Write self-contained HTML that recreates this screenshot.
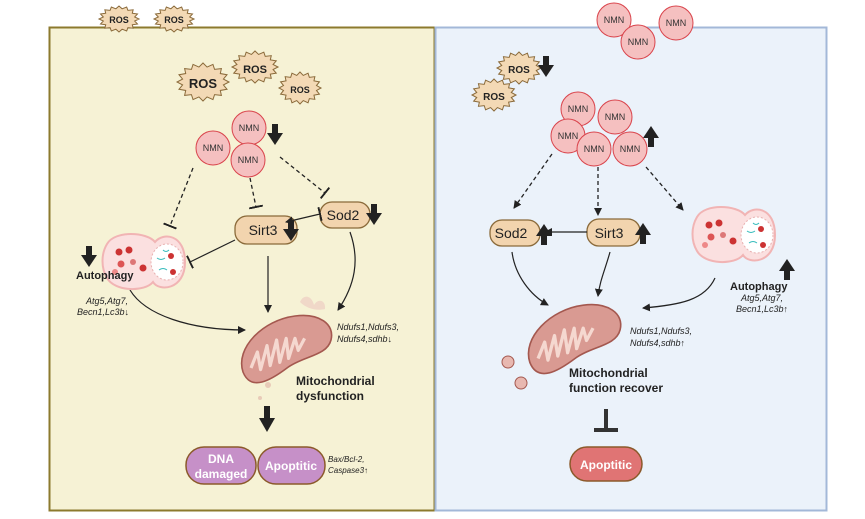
<!DOCTYPE html>
<html><head><meta charset="utf-8"><style>
html,body{margin:0;padding:0;background:#fff}
svg{display:block;font-family:"Liberation Sans",sans-serif}
</style></head><body>
<svg width="865" height="519" viewBox="0 0 865 519">
<defs>
<symbol id="star" viewBox="-1 -1 2 2" preserveAspectRatio="none" overflow="visible">
<polygon points="1,0 .785,.156 .924,.383 .665,.445 .707,.707 .445,.665 .383,.924 .156,.785 0,1 -.156,.785 -.383,.924 -.445,.665 -.707,.707 -.665,.445 -.924,.383 -.785,.156 -1,0 -.785,-.156 -.924,-.383 -.665,-.445 -.707,-.707 -.445,-.665 -.383,-.924 -.156,-.785 0,-1 .156,-.785 .383,-.924 .445,-.665 .707,-.707 .665,-.445 .924,-.383 .785,-.156" fill="#f3d9b5" stroke="#8a6a3a" stroke-width="1" vector-effect="non-scaling-stroke"/>
</symbol>
<marker id="ah" markerWidth="8" markerHeight="8" refX="7" refY="4" orient="auto" markerUnits="userSpaceOnUse"><path d="M0,0 L8,4 L0,8z" fill="#222"/></marker>
<marker id="tb" markerWidth="2" markerHeight="14" refX="1" refY="7" orient="auto" markerUnits="userSpaceOnUse"><rect x="0" y="0" width="2" height="14" fill="#222"/></marker>
<g id="dn"><rect x="-3" y="-12" width="6" height="10" fill="#222"/><path d="M-8,-3 L8,-3 L0,9z" fill="#222"/></g>
<g id="up"><rect x="-3" y="2" width="6" height="10" fill="#222"/><path d="M-8,3 L8,3 L0,-9z" fill="#222"/></g>
<g id="auto">
<path d="M-38,-18 C-30,-32 2,-30 10,-20 C18,-30 40,-28 40,0 C40,28 14,30 8,20 C0,30 -30,30 -38,16 C-44,6 -44,-8 -38,-18z" fill="#fbe0e0" stroke="#f1b4b4" stroke-width="2"/>
<ellipse cx="22" cy="0" rx="16" ry="18" fill="#fff" stroke="#e8b0b0" stroke-dasharray="2 2"/>
<circle cx="-26" cy="-10" r="3.5" fill="#c33"/><circle cx="-16" cy="-12" r="3.5" fill="#c33"/><circle cx="-24" cy="2" r="3.5" fill="#d55"/><circle cx="-12" cy="0" r="3" fill="#d77"/><circle cx="-2" cy="6" r="3.5" fill="#c33"/><circle cx="-30" cy="10" r="3" fill="#e88"/>
<circle cx="26" cy="-6" r="3" fill="#c33"/><circle cx="28" cy="10" r="3" fill="#c33"/><path d="M12,-4 q4,3 8,0 M14,8 q4,-3 8,0 M18,-12 q3,3 6,0" stroke="#3bb" fill="none"/>
</g>
<g id="mito">
<path d="M-55,30 C-65,0 -30,-35 10,-40 C40,-44 60,-30 55,-10 C50,10 20,10 0,25 C-20,40 -45,55 -55,30z" fill="#d99a92" stroke="#a4584f" stroke-width="2"/>
<path d="M-45,25 l8,-20 l4,22 l8,-30 l4,25 l8,-32 l4,28 l8,-30 l3,25 l8,-25 l4,15 l8,-15" fill="none" stroke="#f5d8d0" stroke-width="4" stroke-linejoin="round"/>
</g>
</defs>

<rect x="49.5" y="27.5" width="385" height="483" fill="#f6f2d5" stroke="#8c7a2e" stroke-width="2"/>
<rect x="435.5" y="27.5" width="391" height="483" fill="#ebf2fa" stroke="#a3b8d8" stroke-width="2"/>

<g font-weight="bold" text-anchor="middle" fill="#222">
<use href="#star" x="99" y="6" width="40" height="26"/><text x="119" y="23" font-size="9">ROS</text>
<use href="#star" x="154" y="6" width="40" height="26"/><text x="174" y="23" font-size="9">ROS</text>
<use href="#star" x="177" y="63" width="52" height="38"/><text x="203" y="88" font-size="13">ROS</text>
<use href="#star" x="232" y="51" width="46" height="32"/><text x="255" y="73" font-size="11">ROS</text>
<use href="#star" x="279" y="72" width="42" height="32"/><text x="300" y="93" font-size="9">ROS</text>
<use href="#star" x="497" y="52" width="44" height="32"/><text x="519" y="73" font-size="10">ROS</text>
<use href="#star" x="472" y="79" width="44" height="32"/><text x="494" y="100" font-size="10">ROS</text>
</g>
<use href="#dn" x="546" y="68"/>

<g fill="#f5c0c0" stroke="#d9434b" stroke-width="1">
<circle cx="249" cy="128" r="17"/><circle cx="213" cy="148" r="17"/><circle cx="248" cy="160" r="17"/>
<circle cx="614" cy="20" r="17"/><circle cx="676" cy="23" r="17"/><circle cx="638" cy="42" r="17"/>
<circle cx="578" cy="109" r="17"/><circle cx="615" cy="117" r="17"/><circle cx="568" cy="136" r="17"/><circle cx="594" cy="149" r="17"/><circle cx="630" cy="149" r="17"/>
</g>
<g font-size="9" text-anchor="middle" fill="#333">
<text x="249" y="131">NMN</text><text x="213" y="151">NMN</text><text x="248" y="163">NMN</text>
<text x="614" y="23">NMN</text><text x="676" y="26">NMN</text><text x="638" y="45">NMN</text>
<text x="578" y="112">NMN</text><text x="615" y="120">NMN</text><text x="568" y="139">NMN</text><text x="594" y="152">NMN</text><text x="630" y="152">NMN</text>
</g>
<use href="#dn" x="275" y="136"/>
<use href="#up" x="651" y="135"/>

<g stroke="#222" stroke-width="1.3" fill="none" stroke-dasharray="4 3">
<line x1="193" y1="168" x2="170" y2="226" marker-end="url(#tb)"/>
<line x1="250" y1="178" x2="256" y2="207" marker-end="url(#tb)"/>
<line x1="280" y1="157" x2="325" y2="193" marker-end="url(#tb)"/>
<line x1="552" y1="154" x2="514" y2="208" marker-end="url(#ah)"/>
<line x1="598" y1="167" x2="598" y2="215" marker-end="url(#ah)"/>
<line x1="646" y1="167" x2="683" y2="210" marker-end="url(#ah)"/>
</g>

<g fill="#f2d4ae" stroke="#8a6a3a" stroke-width="1.3">
<rect x="235" y="216" width="62" height="28" rx="12"/><rect x="320" y="202" width="50" height="26" rx="12"/>
<rect x="490" y="220" width="50" height="26" rx="12"/><rect x="587" y="219" width="53" height="27" rx="12"/>
</g>
<g font-size="14" text-anchor="middle" fill="#222">
<text x="263" y="235">Sirt3</text><text x="343" y="220">Sod2</text>
<text x="511" y="238">Sod2</text><text x="609" y="238">Sirt3</text>
</g>
<use href="#dn" x="291" y="232"/><use href="#dn" x="374" y="216"/>
<use href="#up" x="544" y="233"/><use href="#up" x="643" y="232"/>

<g stroke="#222" stroke-width="1.2" fill="none">
<line x1="320" y1="214" x2="286" y2="222" marker-start="url(#tb)" marker-end="url(#ah)"/>
<line x1="235" y1="240" x2="190" y2="262" marker-end="url(#tb)"/>
<line x1="268" y1="256" x2="268" y2="312" marker-end="url(#ah)"/>
<path d="M350,232 C360,260 355,285 338,310" marker-end="url(#ah)"/>
<path d="M130,290 C145,315 190,330 245,330" marker-end="url(#ah)"/>
<line x1="587" y1="232" x2="545" y2="232" marker-end="url(#ah)"/>
<path d="M512,252 C515,275 530,295 548,305" marker-end="url(#ah)"/>
<path d="M610,252 C605,270 600,280 598,296" marker-end="url(#ah)"/>
<path d="M715,278 C705,300 680,305 643,308" marker-end="url(#ah)"/>
</g>

<use href="#auto" x="145" y="262"/>
<use href="#auto" x="735" y="235"/>
<use href="#dn" x="89" y="258"/><use href="#up" x="787" y="268"/>

<g transform="translate(287,348) scale(0.8)"><use href="#mito"/></g>
<path d="M300,302 c4,-9 12,-6 14,3 c4,-7 12,-5 11,4 c-8,2 -18,0 -25,-7z" fill="#f0d8c8"/>
<circle cx="268" cy="385" r="3" fill="#e8cbb8"/><circle cx="260" cy="398" r="2" fill="#e8cbb8"/>
<g transform="translate(575,338) scale(0.82)"><use href="#mito"/></g>
<circle cx="508" cy="362" r="6" fill="#e8b8b0" stroke="#a4584f"/><circle cx="521" cy="383" r="6" fill="#e8b8b0" stroke="#a4584f"/>

<text x="76" y="279" font-size="11" font-weight="bold" fill="#222">Autophagy</text>
<g font-size="9" font-style="italic" fill="#222"><text x="86" y="304">Atg5,Atg7,</text><text x="77" y="315">Becn1,Lc3b↓</text>
<text x="741" y="301">Atg5,Atg7,</text><text x="736" y="312">Becn1,Lc3b↑</text>
<text x="337" y="330">Ndufs1,Ndufs3,</text><text x="337" y="342">Ndufs4,sdhb↓</text>
<text x="630" y="334">Ndufs1,Ndufs3,</text><text x="630" y="346">Ndufs4,sdhb↑</text>
<text x="328" y="462" font-size="8">Bax/Bcl-2,</text><text x="328" y="473" font-size="8">Caspase3↑</text></g>
<text x="730" y="290" font-size="11" font-weight="bold" fill="#222">Autophagy</text>

<g font-size="12" font-weight="bold" fill="#222"><text x="296" y="385">Mitochondrial</text><text x="296" y="400">dysfunction</text>
<text x="569" y="377">Mitochondrial</text><text x="569" y="392">function recover</text></g>

<rect x="264" y="406" width="6" height="14" fill="#222"/><path d="M259,418 L275,418 L267,432z" fill="#222"/>
<rect x="604" y="409" width="4" height="20" fill="#333"/><rect x="594" y="428" width="24" height="4" fill="#333"/>

<g stroke="#8b5a2b" stroke-width="1.5">
<rect x="186" y="447" width="70" height="37" rx="18" fill="#c690c8"/>
<rect x="258" y="447" width="67" height="37" rx="18" fill="#c690c8"/>
<rect x="570" y="447" width="72" height="34" rx="17" fill="#e07474"/>
</g>
<g font-size="12" font-weight="bold" fill="#fff" text-anchor="middle">
<text x="221" y="463">DNA</text><text x="221" y="478">damaged</text>
<text x="291" y="470">Apoptitic</text><text x="606" y="469">Apoptitic</text></g>
</svg>
</body></html>
